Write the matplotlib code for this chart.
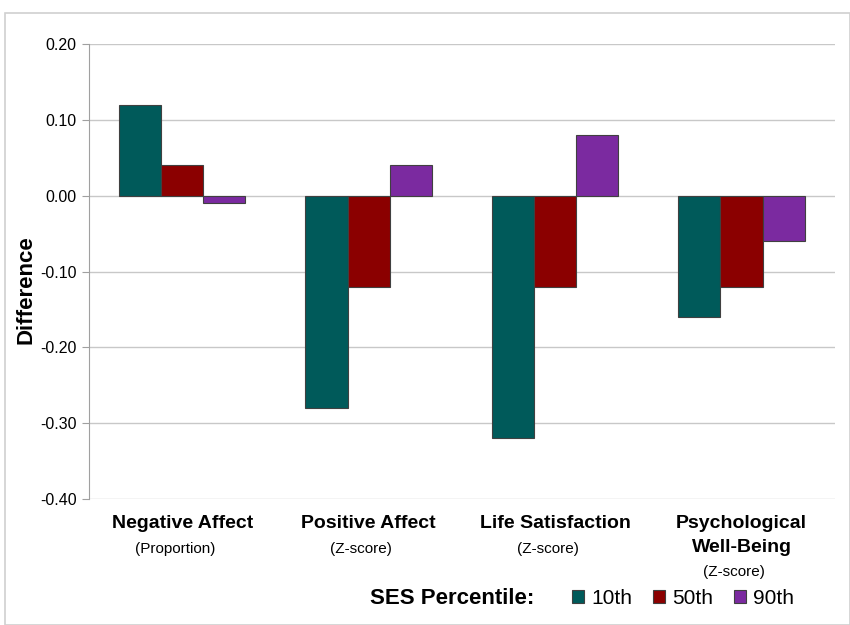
import matplotlib
matplotlib.use("Agg")
from matplotlib import pyplot as plt
from matplotlib.patches import Patch, Rectangle
import numpy

plt.rcParams['font.family'] = ['Liberation Sans', 'DejaVu Sans']

categories = ["Negative Affect", "Positive Affect", "Life Satisfaction", "Psychological\nWell-Being"]
subtitles = ["(Proportion)", "(Z-score)", "(Z-score)", "(Z-score)"]
series_names = ["10th", "50th", "90th"]
values_10th = [0.12, -0.28, -0.32, -0.16]
values_50th = [0.04, -0.12, -0.12, -0.12]
values_90th = [-0.01, 0.04, 0.08, -0.06]
yticks = [-0.40, -0.30, -0.20, -0.10, 0.00, 0.10, 0.20]
ytick_labels = ["-0.40", "-0.30", "-0.20", "-0.10", "0.00", "0.10", "0.20"]
colors = ["#005a5a", "#8b0000", "#7b2aa0"]

fig = plt.figure(figsize=(8.5, 6.25), dpi=100)
ax = fig.add_axes([0.1047, 0.2016, 0.8773, 0.728])

# light frame around the whole chart
fig.patches.append(Rectangle((5 / 850., 0.0), 1 - 5 / 850., 1 - 13 / 625.,
                             transform=fig.transFigure, fill=False,
                             edgecolor="#d0d0d0", linewidth=1.2, zorder=0))

x = numpy.arange(len(categories))
width = 0.226
for i, vals in enumerate([values_10th, values_50th, values_90th]):
    ax.bar(x + (i - 1) * width, vals, width, color=colors[i],
           edgecolor="#404040", linewidth=0.8, zorder=3)

ax.set_xlim(-0.5, 3.5)
ax.set_ylim(-0.40, 0.20)
ax.set_yticks(yticks)
ax.set_yticklabels(ytick_labels, fontsize=11.5)
ax.set_xticks([])
ax.yaxis.grid(True, color="#c8c8c8", linewidth=1.0, zorder=0)
ax.tick_params(axis='y', length=5, color="#a0a0a0", pad=4)

for side in ['top', 'right', 'bottom']:
    ax.spines[side].set_visible(False)
ax.spines['left'].set_color("#a0a0a0")

fig.text(26 / 850., 1 - 290 / 625., "Difference", rotation=90, fontsize=16,
         fontweight='bold', ha='center', va='center')

px = 1 / 455.  # axes fraction per pixel
trans = ax.get_xaxis_transform()
for i, (cat, sub) in enumerate(zip(categories, subtitles)):
    lines = cat.split("\n")
    for j, line in enumerate(lines):
        ax.text(i, -(25 + 24 * j) * px, line, transform=trans, ha='center',
                va='center', fontsize=14, fontweight='bold')
    ax.text(i - 0.04, -(50 + 23 * (len(lines) - 1)) * px, sub, transform=trans,
            ha='center', va='center', fontsize=11)

fig.text(370 / 850., 1 - 598 / 625., "SES Percentile:", fontsize=16,
         fontweight='bold', ha='left', va='center')
handles = [Patch(facecolor=c, edgecolor="#404040", linewidth=0.8) for c in colors]
fig.legend(handles, series_names, loc='center', ncol=3,
           bbox_to_anchor=(683 / 850., 1 - 598 / 625.), frameon=False,
           fontsize=15, handlelength=0.58, handleheight=0.58,
           handletextpad=0.34, columnspacing=1.0)

plt.savefig("out.png", dpi=100)
